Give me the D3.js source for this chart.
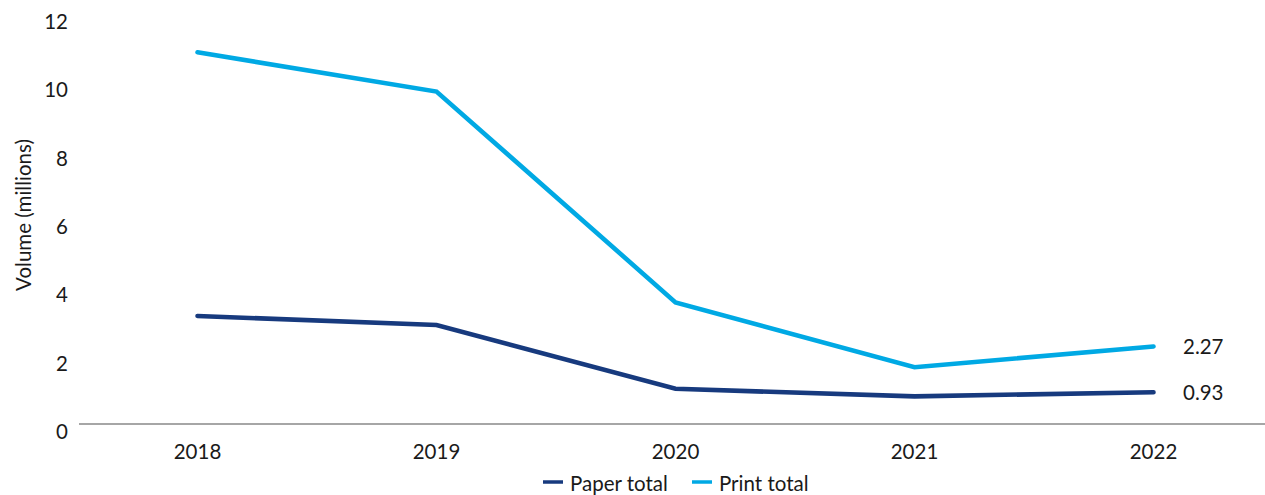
<!DOCTYPE html>
<html>
<head>
<meta charset="utf-8">
<script src="https://cdn.jsdelivr.net/npm/d3@7"></script>
<style>
  html, body { margin: 0; padding: 0; background: #fff; }
  svg { display: block; font-family: Lato, "Open Sans", sans-serif; }
</style>
</head>
<body>
<svg id="chart" width="1265" height="495"></svg>
<script>
const years = ["2018", "2019", "2020", "2021", "2022"];
const paperTotal = [3.16, 2.90, 1.03, 0.81, 0.93];
const printTotal = [10.88, 9.73, 3.56, 1.66, 2.27];
const yTicks = [0, 2, 4, 6, 8, 10, 12];
const seriesNames = ["Paper total", "Print total"];
const seriesColors = ["#173a7e", "#00a9e4"];
const endLabels = ["0.93", "2.27"];

const FS = 20.5;
const svg = d3.select("#chart");
const x = d3.scalePoint().domain(years).range([78, 1273]).padding(0.5);
const y = d3.scaleLinear().domain([0, 12]).range([424, 14]);

// y tick labels
svg.append("g").selectAll("text").data(yTicks).join("text")
  .attr("x", 68).attr("y", d => y(d) + 7)
  .attr("text-anchor", "end").attr("dominant-baseline", "central")
  .attr("font-size", FS).attr("fill", "#1a1a1a")
  .text(d => d);

// y axis title
svg.append("text")
  .attr("transform", "translate(23,215) rotate(-90)")
  .attr("text-anchor", "middle").attr("dominant-baseline", "central")
  .attr("font-size", FS).attr("fill", "#1a1a1a")
  .text("Volume (millions)");

// baseline
svg.append("line")
  .attr("x1", 79).attr("x2", 1265)
  .attr("y1", y(0)).attr("y2", y(0))
  .attr("stroke", "#888").attr("stroke-width", 1.7);

// x labels
svg.append("g").selectAll("text").data(years).join("text")
  .attr("x", d => x(d)).attr("y", 451)
  .attr("text-anchor", "middle").attr("dominant-baseline", "central")
  .attr("font-size", FS).attr("fill", "#1a1a1a")
  .text(d => d);

const line = d3.line().x((d, i) => x(years[i])).y(d => y(d));
const allSeries = [paperTotal, printTotal];

svg.append("g").selectAll("path").data(allSeries).join("path")
  .attr("d", d => line(d))
  .attr("fill", "none")
  .attr("stroke", (d, i) => seriesColors[i])
  .attr("stroke-width", 4.6)
  .attr("stroke-linecap", "round")
  .attr("stroke-linejoin", "miter");

// end labels
svg.append("g").selectAll("text").data(allSeries).join("text")
  .attr("x", 1183)
  .attr("y", d => y(d[d.length - 1]))
  .attr("dominant-baseline", "central")
  .attr("font-size", FS).attr("fill", "#1a1a1a")
  .text((d, i) => endLabels[i]);

// legend
const legendX = [543, 692];
const lg = svg.append("g").selectAll("g").data(seriesNames).join("g")
  .attr("transform", (d, i) => `translate(${legendX[i]},483)`);
lg.append("line").attr("x1", 0).attr("x2", 20).attr("y1", -1).attr("y2", -1)
  .attr("stroke", (d, i) => seriesColors[i]).attr("stroke-width", 3.5);
lg.append("text").attr("x", 27).attr("y", 0)
  .attr("dominant-baseline", "central")
  .attr("font-size", FS).attr("fill", "#1a1a1a")
  .text(d => d);
</script>
</body>
</html>
